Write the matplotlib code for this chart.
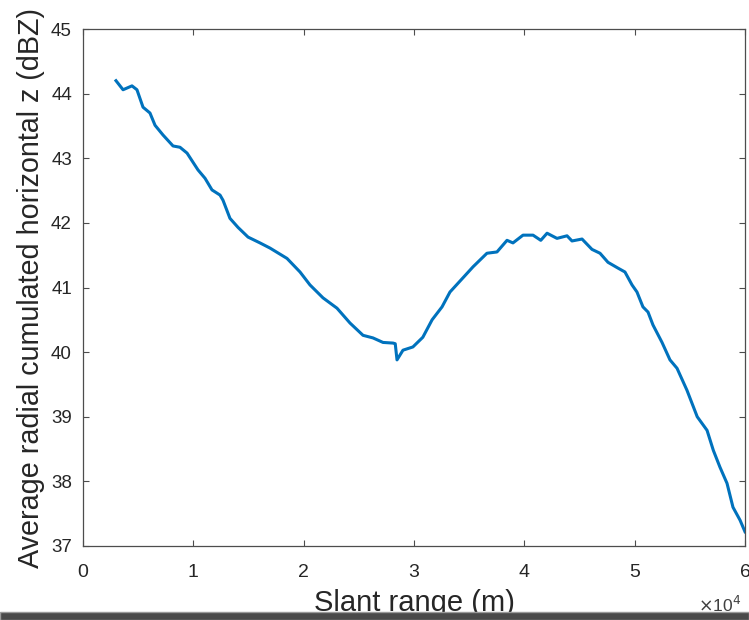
import matplotlib
matplotlib.use("Agg")
import matplotlib.pyplot as plt
from matplotlib.patches import Rectangle

# data (slant range in m, reflectivity in dBZ)
slant_range = [2990, 3630, 4440, 4890, 5440, 6070, 6530, 7250, 8160, 8790,
               9430, 10420, 11060, 11690, 12420, 12690, 13320, 14050, 14960,
               16040, 16950, 18490, 19670, 20570, 21750, 23020, 24200, 25380,
               26280, 27190, 28100, 28300, 28460, 29000, 29900, 30800, 31640,
               32540, 33260, 34440, 35350, 36610, 37520, 38430, 38970, 39880,
               40790, 41490, 42060, 42960, 43870, 44320, 45230, 46130, 46860,
               47580, 48490, 49120, 49760, 50210, 50750, 51210, 51660, 52480,
               53200, 53840, 54740, 55670, 56560, 57130, 57730, 58370, 58910,
               59550, 60000]
avg_z = [44.20, 44.06, 44.12, 44.06, 43.79, 43.70, 43.51, 43.36, 43.19, 43.17,
         43.08, 42.82, 42.69, 42.51, 42.43, 42.35, 42.07, 41.93, 41.78,
         41.69, 41.61, 41.45, 41.24, 41.04, 40.84, 40.68, 40.45, 40.26,
         40.22, 40.15, 40.14, 40.13, 39.88, 40.03, 40.08, 40.23, 40.50,
         40.70, 40.93, 41.15, 41.32, 41.53, 41.55, 41.73, 41.69, 41.81,
         41.81, 41.73, 41.84, 41.76, 41.80, 41.72, 41.75, 41.59, 41.53,
         41.39, 41.30, 41.24, 41.04, 40.93, 40.70, 40.62, 40.42, 40.15,
         39.88, 39.75, 39.41, 39.00, 38.79, 38.48, 38.22, 37.97, 37.60,
         37.40, 37.22]

font = ["Liberation Sans", "DejaVu Sans"]
axcol = "#4d4d4d"
txtcol = "#262626"

fig = plt.figure(figsize=(7.49, 6.20), dpi=100)
ax = fig.add_axes([83 / 749, 74 / 620, 662 / 749, 517 / 620])

ax.plot(slant_range, avg_z, color="#0072BD", linewidth=2.2)

ax.set_xlim(0, 60000)
ax.set_ylim(37, 45)
ax.set_xticks([0, 10000, 20000, 30000, 40000, 50000, 60000])
ax.set_xticklabels(["0", "1", "2", "3", "4", "5", "6"], family=font, fontsize=14)
ax.set_yticks(range(37, 46))
ax.set_yticklabels([str(v) for v in range(37, 46)], family=font, fontsize=13.5)
ax.tick_params(direction="in", top=True, right=True, length=4.5, width=0.8,
               color=axcol, labelcolor=txtcol)
ax.tick_params(axis="x", pad=13)
ax.tick_params(axis="y", pad=8)
for s in ax.spines.values():
    s.set_color(axcol)
    s.set_linewidth(0.9)

ax.set_xlabel("Slant range (m)", family=font, fontsize=21, color=txtcol)
ax.xaxis.set_label_coords(0.5, -0.083)
ax.set_ylabel("Average radial cumulated horizontal z (dBZ)", family=font,
              fontsize=20.7, color=txtcol, labelpad=4)
fig.text(741 / 749, 1 - 605 / 620, r"$\times$10$^4$", ha="right", va="center",
         family=font, fontsize=12.5, color="#404040")

# dark strip along the bottom edge of the screenshot
fig.patches.append(Rectangle((0, 0), 1, 8 / 620, transform=fig.transFigure,
                             facecolor="#4a4a4a", edgecolor="#9a9a9a",
                             linewidth=1))

fig.savefig("out.png", dpi=100)
